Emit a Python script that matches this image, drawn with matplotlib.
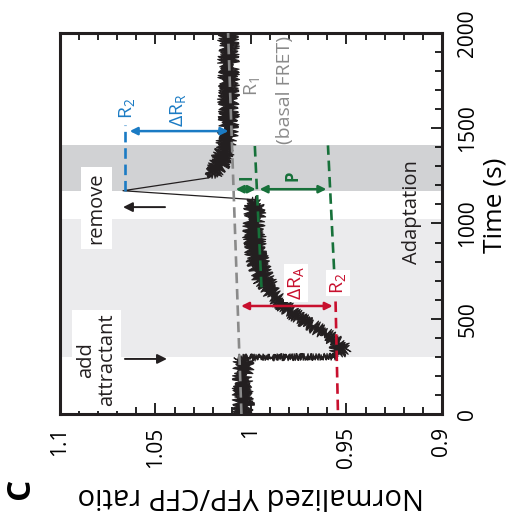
import numpy as np
import matplotlib
matplotlib.use("Agg")
import matplotlib.pyplot as plt

plt.rcParams['font.family'] = ['Open Sans', 'DejaVu Sans']
plt.rcParams['mathtext.fontset'] = 'custom'
plt.rcParams['mathtext.rm'] = 'Open Sans'
plt.rcParams['mathtext.it'] = 'Open Sans'
plt.rcParams['mathtext.bf'] = 'Open Sans:bold'

# FRET trace: time (s), mean ratio, half spread of the noise
# (spread 0 marks the fast single-sample jumps, drawn as thin lines)
trace_t = [0, 50, 100, 150, 200, 250, 296,
           301, 315, 340, 370, 400, 450, 500, 550, 600, 650, 700, 750, 800,
           850, 900, 950, 1000, 1050, 1100, 1125,
           1172, 1240,
           1255, 1300, 1350, 1400, 1450, 1500, 1550, 1600, 1650, 1700, 1750,
           1800, 1850, 1900, 1950, 2000]
trace_mean = [1.0045, 1.0040, 1.0045, 1.0040, 1.0045, 1.0040, 1.0040,
              0.9560, 0.9545, 0.9530, 0.9540, 0.9580, 0.9660, 0.9740, 0.9810,
              0.9860, 0.9900, 0.9930, 0.9950, 0.9965, 0.9975, 0.9980, 0.9985,
              0.9985, 0.9980, 0.9980, 0.9980,
              1.0670, 1.0220,
              1.0200, 1.0170, 1.0150, 1.0130, 1.0125, 1.0120, 1.0118, 1.0115,
              1.0118, 1.0115, 1.0118, 1.0115, 1.0118, 1.0115, 1.0118, 1.0115]
trace_spread = [0.0035, 0.0040, 0.0035, 0.0040, 0.0035, 0.0040, 0.0030,
                0.0015, 0.0030, 0.0040, 0.0035, 0.0035, 0.0040, 0.0040, 0.0035,
                0.0040, 0.0035, 0.0045, 0.0040, 0.0045, 0.0040, 0.0040, 0.0045,
                0.0040, 0.0040, 0.0040, 0.0020,
                0, 0.0010,
                0.0030, 0.0040, 0.0040, 0.0035, 0.0040, 0.0035, 0.0040, 0.0035,
                0.0040, 0.0035, 0.0040, 0.0035, 0.0040, 0.0035, 0.0040, 0.0035]

# stimulus windows (s)
attractant_span = [300, 1025]
removal_span = [1170, 1410]

# guide lines: (time, ratio) end points
basal_t = [0, 2000]
basal_r = [1.005, 1.012]
removal_r2_t = [1170, 1517]
removal_r2_r = [1.066, 1.066]
adapt_t = [665, 1410]
adapt_r = [0.9945, 0.998]
bound_t = [760, 1410]
bound_r = [0.9565, 0.9597]
attr_r2_t = [20, 720]
attr_r2_r = [0.9545, 0.956]

ratio_ticks = [1.1, 1.05, 1.0, 0.95, 0.9]
ratio_labels = ['1.1', '1.05', '1', '0.95', '0.9']
time_ticks = [0, 500, 1000, 1500, 2000]

black = '#231f20'
grey = '#8a8a8a'
blue = '#1b7bc4'
red = '#c8102e'
green = '#17713a'

fig = plt.figure(figsize=(5.14, 5.18), dpi=100)
ax = fig.add_axes([0.1167, 0.2008, 0.7432, 0.7355])

ax.axhspan(*attractant_span, color='#ebebed', lw=0, zorder=0)
ax.axhspan(*removal_span, color='#d1d2d4', lw=0, zorder=0)

mean = np.array(trace_mean)
spread = np.array(trace_spread)
noisy = spread > 0.0012
band = ax.fill_betweenx(trace_t, mean - spread, mean + spread, where=noisy,
                        color=black, lw=0.8, zorder=2)
band.set_sketch_params(scale=3.5, length=2.0, randomness=3)
ax.plot(trace_mean, trace_t, color=black, lw=0.9, zorder=2)

dash = dict(lw=1.9, dashes=(4, 2.2), zorder=3)
ax.plot(basal_r, basal_t, color=grey, **dash)
ax.plot(removal_r2_r, removal_r2_t, color=blue, **dash)
ax.plot(adapt_r, adapt_t, color=green, **dash)
ax.plot(bound_r, bound_t, color=green, **dash)
ax.plot(attr_r2_r, attr_r2_t, color=red, **dash)


def double_arrow(r1, r2, t, color):
    ax.annotate('', xy=(r2, t), xytext=(r1, t),
                arrowprops=dict(arrowstyle='<|-|>', color=color, lw=1.8,
                                mutation_scale=11, shrinkA=0, shrinkB=0),
                zorder=4)


double_arrow(1.0635, 1.0118, 1485, blue)
double_arrow(1.0080, 0.9975, 1180, green)
double_arrow(0.9955, 0.9605, 1180, green)
double_arrow(1.0052, 0.9572, 567, red)

# stimulus arrows
ax.annotate('', xy=(1.067, 1086), xytext=(1.045, 1086),
            arrowprops=dict(arrowstyle='-|>', color=black, lw=1.4,
                            mutation_scale=14, shrinkA=0, shrinkB=0))
ax.annotate('', xy=(1.044, 289), xytext=(1.066, 289),
            arrowprops=dict(arrowstyle='-|>', color=black, lw=1.4,
                            mutation_scale=14, shrinkA=0, shrinkB=0))

white_box = dict(facecolor='white', edgecolor='none', pad=1.5)
txt = dict(rotation=90, ha='center', va='center', zorder=5)
ax.text(1.0809, 1081, 'remove', fontsize=14.5, color=black,
        bbox=dict(facecolor='white', edgecolor='none', pad=4), **txt)
ax.text(1.0809, 283, 'add\nattractant', fontsize=14.5, color=black, linespacing=1.05,
        bbox=dict(facecolor='white', edgecolor='none', pad=3), **txt)
ax.text(0.9157, 1060, 'Adaptation', fontsize=14.5, color=black, **txt)
ax.text(0.9995, 1720, r'R$_1$', fontsize=14, color=grey, **txt)
ax.text(0.982, 1700, '(basal FRET)', fontsize=14, color=grey, **txt)
ax.text(1.065, 1606, r'R$_2$', fontsize=14, color=blue, **txt)
ax.text(1.038, 1596, r'$\Delta$R$_\mathrm{R}$', fontsize=14, color=blue, **txt)
ax.text(1.0026, 1244, 'I', fontsize=12, color=green, fontweight='bold', **txt)
ax.text(0.9785, 1249, 'P', fontsize=12, color=green, fontweight='bold', **txt)
ax.text(0.9764, 688, r'$\Delta$R$_\mathrm{A}$', fontsize=14, color=red, bbox=white_box, **txt)
ax.text(0.9545, 688, r'R$_2$', fontsize=14, color=red, bbox=white_box, **txt)

ax.set_xlim(1.1, 0.9)
ax.set_ylim(0, 2000)
ax.set_xticks(ratio_ticks, labels=ratio_labels)
ax.set_xticks(np.arange(0.9, 1.1001, 0.01), minor=True)
ax.yaxis.tick_right()
ax.set_yticks(time_ticks)
ax.set_yticks(np.arange(0, 2001, 100), minor=True)
ax.tick_params(axis='x', which='both', direction='in', top=True, bottom=True,
               labelsize=15, labelrotation=90, pad=9, width=1.2)
ax.tick_params(axis='y', which='both', direction='in', left=False, right=True,
               labelsize=15, labelrotation=90, pad=11, width=1.2)
ax.tick_params(which='major', length=8)
ax.tick_params(which='minor', length=5)
for lab in ax.get_yticklabels():
    lab.set_va('center')
for s in ax.spines.values():
    s.set_linewidth(2.2)
    s.set_color(black)

ax.set_xlabel('Normalized YFP/CFP ratio', fontsize=21, rotation=180, va='center')
ax.xaxis.set_label_coords(0.5, -0.215)
ax.yaxis.set_label_position('right')
ax.set_ylabel('Time (s)', fontsize=19, rotation=90, va='center')
ax.yaxis.set_label_coords(1.139, 0.549)

fig.text(0.039, 0.058, 'C', fontsize=24, fontweight='bold', rotation=90,
         ha='center', va='center')

fig.savefig('out.png', dpi=100)
